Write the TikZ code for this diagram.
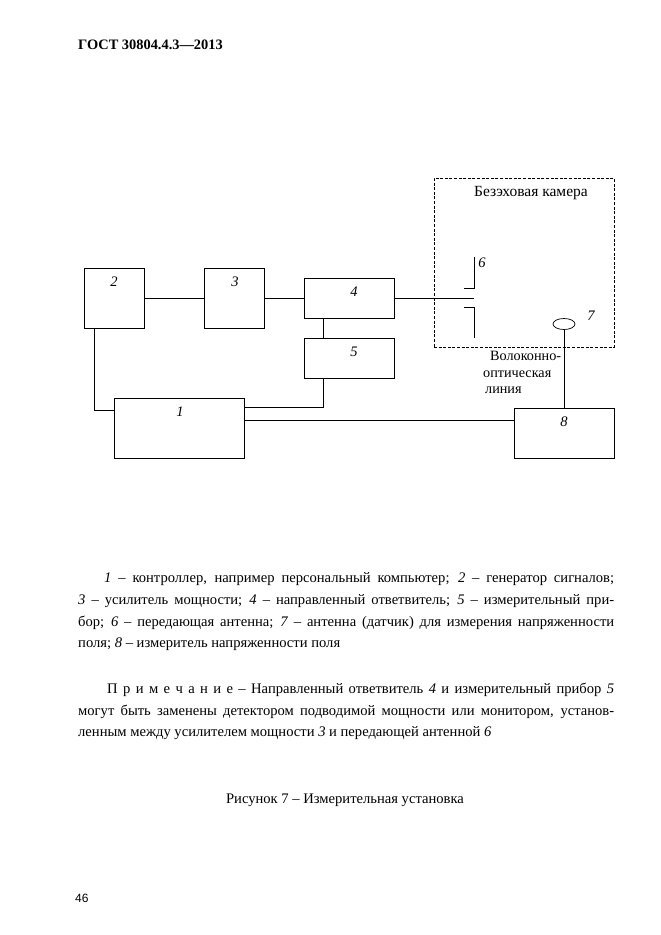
\documentclass[tikz,border=0pt]{standalone}
\usepackage{fontspec}
\setmainfont{Liberation Serif}
\newfontfamily\pagefont{Liberation Sans}
\usetikzlibrary{shapes.geometric}

% one line of a justified paragraph, spread to a given width
\newcommand\jline[2]{\makebox[#1pt][s]{#2}}

\begin{document}
\begin{tikzpicture}[x=1pt,y=-1pt,
  blk/.style={draw,line width=0.7pt,inner sep=0pt},
  num/.style={font=\fontsize{14.5}{16}\selectfont\itshape,inner sep=0pt},
  txt/.style={font=\fontsize{14.6}{16}\selectfont,anchor=base west,inner sep=0pt},
  wire/.style={line width=0.7pt}]
  \useasboundingbox[fill=white] (0,0) rectangle (661,935);
  % ---------- page head
  \node[txt,font=\fontsize{14.4}{16}\selectfont\bfseries] (head) at (78,49) {ГОСТ 30804.4.3—2013};
  % ---------- anechoic chamber
  \node[draw,dash pattern=on 3pt off 1.6pt,line width=0.6pt,minimum width=180,minimum height=169,inner sep=0pt] (cam) at (524,262.5) {};
  \node[txt,anchor=center,font=\fontsize{15.5}{17}\selectfont] (camtxt) at (531,193) {Безэховая камера};
  % ---------- blocks
  \foreach \n/\x/\y/\w/\h/\lx in {2/114/298/60/60/0,3/234/298/60/60/1,4/349/298/90/40/5,
                                   5/349/358/90/40/5,1/179/428/130/60/1,8/564/433/100/50/0} {
    \node[blk,minimum width=\w,minimum height=\h] (b\n) at (\x,\y) {};
    \node[num] (t\n) at ([xshift=\lx pt,yshift=-14pt]b\n.north) {\n};
  }
  % ---------- antennas
  \coordinate (feed) at (474,298);
  \draw[wire] (474,257) -- (474,288) -- (464,288);
  \draw[wire] (464,307) -- (474,307) -- (474,338);
  \node[num] (t6) at (482,263) {6};
  \node[draw,ellipse,line width=0.7pt,minimum width=22,minimum height=11,inner sep=0pt] (ant7) at (564,324) {};
  \node[num] (t7) at (591,316) {7};
  \node[txt,font=\fontsize{14.2}{16}\selectfont] (fib1) at (490,360) {Волоконно-};
  \node[txt,font=\fontsize{14.2}{16}\selectfont] (fib2) at (483,377) {оптическая};
  \node[txt,font=\fontsize{14.2}{16}\selectfont] (fib3) at (485,393) {линия};
  % ---------- connections
  \draw[wire] (b2.east) -- (b3.west);
  \draw[wire] (b3.east) -- (b4.west);
  \draw[wire] (b4.east) -- (feed);
  \draw[wire] ([xshift=20pt]b4.south west) -- ([xshift=20pt]b5.north west);
  \draw[wire] ([xshift=11pt]b2.south west) |- ([yshift=-13pt]b1.north west);
  \draw[wire] ([xshift=20pt]b5.south west) |- ([yshift=-10pt]b1.north east);
  \draw[wire] ([yshift=-23pt]b1.north east) -- ([yshift=-13pt]b8.north west);
  \draw[wire] (ant7.south) -- (b8.north);
  % ---------- legend
  \node[txt] (leg1) at (104,582) {\jline{510}{\textit{1} – контроллер, например персональный компьютер; \textit{2} – генератор сигналов;}};
  \node[txt] (leg2) at (78,604) {\jline{536}{\textit{3} – усилитель мощности; \textit{4} – направленный ответвитель; \textit{5} – измерительный при-}};
  \node[txt] (leg3) at (78,626) {\jline{536}{бор; \textit{6} – передающая антенна; \textit{7} – антенна (датчик) для измерения напряженности}};
  \node[txt] (leg4) at (78,647) {поля; \textit{8} – измеритель напряженности поля};
  % ---------- note
  \node[txt] (note1) at (107,693) {\jline{507}{П р и м е ч а н и е – Направленный ответвитель \textit{4} и измерительный прибор \textit{5}}};
  \node[txt] (note2) at (78,715) {\jline{536}{могут быть заменены детектором подводимой мощности или монитором, установ-}};
  \node[txt] (note3) at (78,736) {ленным между усилителем мощности \textit{3} и передающей антенной \textit{6}};
  % ---------- caption and page number
  \node[txt,anchor=base] (cap) at (345,803) {Рисунок 7 – Измерительная установка};
  \node[txt,font=\fontsize{12}{14}\selectfont\pagefont] (page) at (75,902) {46};
\end{tikzpicture}
\end{document}
